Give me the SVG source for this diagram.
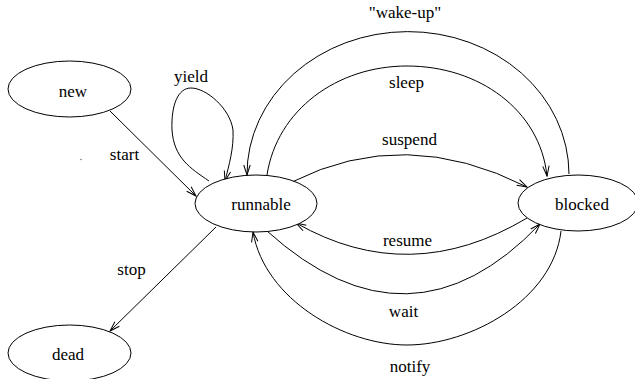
<svg xmlns="http://www.w3.org/2000/svg" width="635" height="379" viewBox="0 0 635 379">
<defs>
<style>
.node ellipse{fill:#fff;stroke:#000;stroke-width:1}
text{font-family:"Liberation Serif","Times New Roman",serif;font-size:17px;fill:#000;text-anchor:middle}
.edges path{fill:none;stroke:#000;stroke-width:1}
</style>
<marker id="arr" markerUnits="userSpaceOnUse" markerWidth="12" markerHeight="10" refX="11" refY="4" orient="auto">
<path d="M1,0.8 L11,4 L1,7.2" fill="none" stroke="#000" stroke-width="1"/>
</marker>
</defs>
<rect width="635" height="379" fill="#fff"/>
<g class="edges">
<path d="M110,111 L196,196" marker-end="url(#arr)"/>
<path d="M209,181 C190,168 174,158 172,130 C171,105 178,88 191,88 C206,88 230,108 233,130 C234,148 229,165 225,181" marker-end="url(#arr)"/>
<path d="M569,174 A160,142 0 0 0 247,175" marker-end="url(#arr)"/>
<path d="M267,175 C277,110 337,66 407,66 C479,66 540,110 547,176" marker-end="url(#arr)"/>
<path d="M292,182 Q405,125 527,187" marker-end="url(#arr)"/>
<path d="M527,218 Q410,288 296,223" marker-end="url(#arr)"/>
<path d="M267,231 Q410,360 540,224" marker-end="url(#arr)"/>
<path d="M561,231 C553,300 470,345 407,345 C345,345 265,300 253,232" marker-end="url(#arr)"/>
<path d="M216,227 L110,331" marker-end="url(#arr)"/>
</g>
<g id="new" class="node"><ellipse cx="69.5" cy="89" rx="61.5" ry="28"/><text x="73" y="97">new</text></g>
<g id="runnable" class="node"><ellipse cx="256" cy="203.5" rx="61" ry="28.5"/><text x="261" y="210">runnable</text></g>
<g id="blocked" class="node"><ellipse cx="578" cy="203" rx="60" ry="28"/><text x="582" y="210">blocked</text></g>
<g id="dead" class="node"><ellipse cx="69.5" cy="353" rx="61.5" ry="28"/><text x="68" y="360">dead</text></g>
<g id="labels">
<text x="191" y="82">yield</text>
<text x="124.5" y="160">start</text>
<text x="131.5" y="275">stop</text>
<text x="405" y="18">"wake-up"</text>
<text x="406.5" y="88">sleep</text>
<text x="409.5" y="145">suspend</text>
<text x="407.5" y="246">resume</text>
<text x="403.5" y="317">wait</text>
<text x="410" y="372">notify</text>
</g>
<circle cx="81" cy="159.5" r="0.7" fill="#555"/>
</svg>
